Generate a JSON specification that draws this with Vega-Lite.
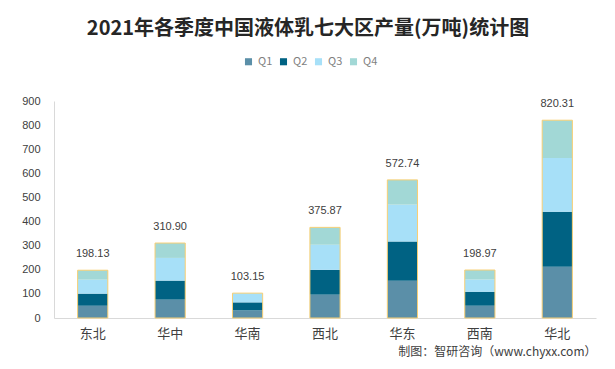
{
  "$schema": "https://vega.github.io/schema/vega-lite/v6.json",
  "autosize": {"type": "none"},
  "width": 542,
  "height": 217,
  "padding": {"left": 54, "top": 101, "right": 19, "bottom": 51},
  "background": "white",
  "config": {
    "view": {"stroke": null},
    "axisY": {
      "title": null,
      "labelOverlap": false,
      "grid": false,
      "ticks": false,
      "domain": true,
      "domainColor": "#d9d9d9",
      "labelFont": "Liberation Sans",
      "labelFontSize": 11,
      "labelColor": "#404040",
      "labelPadding": 14
    }
  },
  "title": {
    "text": "2021年各季度中国液体乳七大区产量(万吨)统计图",
    "font": "Noto Sans CJK SC",
    "fontSize": 20,
    "fontWeight": "bold",
    "color": "#262626",
    "anchor": "middle",
    "frame": "group",
    "dx": -17,
    "offset": 17
  },
  "datasets": {
    "q": [
      {"region": "东北", "quarter": "Q1", "value": 50.8},
      {"region": "东北", "quarter": "Q2", "value": 50.3},
      {"region": "东北", "quarter": "Q3", "value": 57.9},
      {"region": "东北", "quarter": "Q4", "value": 39.13},
      {"region": "华中", "quarter": "Q1", "value": 76.2},
      {"region": "华中", "quarter": "Q2", "value": 78.9},
      {"region": "华中", "quarter": "Q3", "value": 94.1},
      {"region": "华中", "quarter": "Q4", "value": 61.7},
      {"region": "华南", "quarter": "Q1", "value": 31.6},
      {"region": "华南", "quarter": "Q2", "value": 33.2},
      {"region": "华南", "quarter": "Q3", "value": 38.0},
      {"region": "华南", "quarter": "Q4", "value": 0.35},
      {"region": "西北", "quarter": "Q1", "value": 96.8},
      {"region": "西北", "quarter": "Q2", "value": 103.0},
      {"region": "西北", "quarter": "Q3", "value": 104.0},
      {"region": "西北", "quarter": "Q4", "value": 72.07},
      {"region": "华东", "quarter": "Q1", "value": 155.0},
      {"region": "华东", "quarter": "Q2", "value": 162.0},
      {"region": "华东", "quarter": "Q3", "value": 153.0},
      {"region": "华东", "quarter": "Q4", "value": 102.74},
      {"region": "西南", "quarter": "Q1", "value": 50.9},
      {"region": "西南", "quarter": "Q2", "value": 58.0},
      {"region": "西南", "quarter": "Q3", "value": 50.5},
      {"region": "西南", "quarter": "Q4", "value": 39.57},
      {"region": "华北", "quarter": "Q1", "value": 213.0},
      {"region": "华北", "quarter": "Q2", "value": 228.0},
      {"region": "华北", "quarter": "Q3", "value": 223.0},
      {"region": "华北", "quarter": "Q4", "value": 156.31}
    ],
    "t": [
      {"region": "东北", "total": 198.13},
      {"region": "华中", "total": 310.90},
      {"region": "华南", "total": 103.15},
      {"region": "西北", "total": 375.87},
      {"region": "华东", "total": 572.74},
      {"region": "西南", "total": 198.97},
      {"region": "华北", "total": 820.31}
    ]
  },
  "encoding": {
    "x": {
      "field": "region",
      "type": "nominal",
      "sort": ["东北", "华中", "华南", "西北", "华东", "西南", "华北"],
      "scale": {"paddingInner": 0.61, "paddingOuter": 0.305},
      "axis": {
        "title": "制图：智研咨询（www.chyxx.com）",
        "titleAnchor": "end",
        "titleAlign": "right",
        "titleFont": "Noto Sans CJK SC",
        "titleFontSize": 12,
        "titleFontWeight": "normal",
        "titleColor": "#404040",
        "titlePadding": 6,
        "labelAngle": 0,
        "labelFont": "Noto Sans CJK SC",
        "labelFontSize": 13,
        "labelColor": "#404040",
        "labelPadding": 9,
        "ticks": false,
        "domainColor": "#d9d9d9",
        "domainWidth": 1
      }
    }
  },
  "layer": [
    {
      "data": {"name": "q"},
      "mark": {"type": "bar"},
      "encoding": {
        "y": {
          "field": "value",
          "type": "quantitative",
          "stack": "zero",
          "scale": {"domain": [0, 900], "nice": false},
          "axis": {"values": [0, 100, 200, 300, 400, 500, 600, 700, 800, 900], "tickCount": 10}
        },
        "color": {
          "field": "quarter",
          "type": "nominal",
          "scale": {
            "domain": ["Q1", "Q2", "Q3", "Q4"],
            "range": ["#5b8fa8", "#006283", "#a7e0f8", "#a2d8d6"]
          },
          "legend": {
            "title": null,
            "orient": "none",
            "direction": "horizontal",
            "legendX": 189,
            "legendY": -45,
            "symbolType": "square",
            "symbolSize": 50,
            "symbolStrokeWidth": 0,
            "labelFont": "Noto Sans CJK SC",
            "labelFontSize": 11,
            "labelColor": "#7f7f7f",
            "labelOffset": 4,
            "columnPadding": 5
          }
        },
        "order": {"field": "quarter", "sort": "ascending"}
      }
    },
    {
      "data": {"name": "t"},
      "mark": {"type": "bar", "fill": null, "fillOpacity": 0, "stroke": "#f7cf74", "strokeWidth": 1},
      "encoding": {
        "y": {
          "field": "total",
          "type": "quantitative",
          "axis": {"values": [0, 100, 200, 300, 400, 500, 600, 700, 800, 900], "tickCount": 10}
        }
      }
    },
    {
      "data": {"name": "t"},
      "mark": {"type": "text", "dy": -16, "baseline": "middle", "font": "Liberation Sans", "fontSize": 11, "color": "#404040"},
      "encoding": {
        "y": {
          "field": "total",
          "type": "quantitative",
          "axis": {"values": [0, 100, 200, 300, 400, 500, 600, 700, 800, 900], "tickCount": 10}
        },
        "text": {"field": "total", "type": "quantitative", "format": ".2f"}
      }
    }
  ]
}
